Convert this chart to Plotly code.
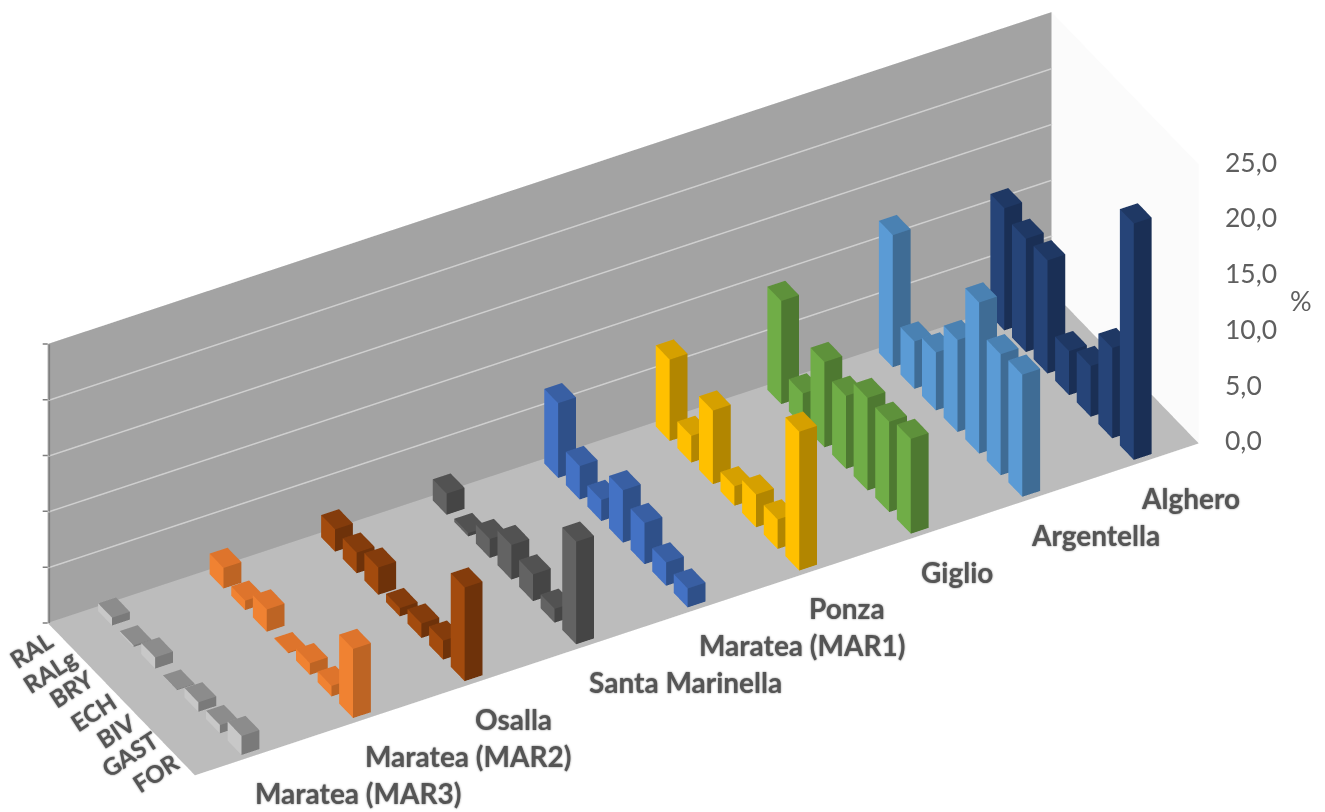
import plotly.graph_objects as go

# Sites along the long floor axis, front to back
sites = ["Maratea (MAR3)", "Maratea (MAR2)", "Osalla", "Santa Marinella", "Maratea (MAR1)",
         "Ponza", "Giglio", "Argentella", "Alghero"]
categories = ["RAL", "RALg", "BRY", "ECH", "BIV", "GAST", "FOR"]

mar3 = [0.7, 0.15, 1.0, 0.05, 0.85, 0.75, 1.7]
mar2 = [1.85, 0.85, 2.0, 0.1, 1.05, 0.95, 6.2]
osalla = [2.0, 1.85, 2.45, 0.75, 1.3, 1.7, 8.4]
santa_marinella = [1.9, 0.3, 1.7, 3.1, 2.4, 1.25, 9.2]
mar1 = [6.7, 3.0, 1.9, 4.7, 3.7, 2.1, 1.7]
ponza = [7.3, 2.4, 6.6, 1.75, 2.95, 2.65, 12.45]
giglio = [9.25, 2.9, 7.65, 6.55, 8.3, 8.1, 8.5]
argentella = [11.85, 4.25, 5.2, 8.25, 13.55, 10.85, 10.95]
alghero = [10.95, 10.15, 10.15, 3.95, 4.55, 8.1, 21.2]
series = [mar3, mar2, osalla, santa_marinella, mar1, ponza, giglio, argentella, alghero]

z_ticks = [0, 5, 10, 15, 20, 25]
z_tick_labels = ["0,0", "5,0", "10,0", "15,0", "20,0", "25,0"]

# Face colours per site: side facing left, side facing right, top
face_colors = [
    ("#c8c8c8", "#7a7a7a", "#8c8c8c"),
    ("#f08232", "#bd6424", "#de742c"),
    ("#a34b0e", "#6e320a", "#843c0c"),
    ("#636363", "#454545", "#525252"),
    ("#4472c4", "#2f5089", "#395fa3"),
    ("#ffc000", "#b28600", "#d5a000"),
    ("#70ad47", "#4e7931", "#5e913b"),
    ("#5b9bd5", "#3f6c95", "#4a81b2"),
    ("#264478", "#1a2f55", "#1f3864"),
]

BAR_X = 0.08     # half width along the site axis
BAR_Y = 0.33     # half width along the category axis
ROW_DRIFT = 0.005  # slight lean of each row along the site axis
n_cat = len(categories)

# Label nudges in pixels
site_dx = [107, 106, 40, 100, 105, 39, 37, 64, 48]
cat_shift = [(-27, 16), (-29, 15), (-29, 11), (-28, 12), (-26, 10), (-33, 11), (-29, 8)]
TEXT = "#555555"


def bars_mesh(site_index, values, colors):
    left, right, top = colors
    xs, ys, zs, i, j, k, fc = [], [], [], [], [], [], []
    for c, v in enumerate(values):
        yc = n_cat - 1 - c
        xc = site_index + ROW_DRIFT * c
        x0, x1 = xc - BAR_X, xc + BAR_X
        y0, y1 = yc - BAR_Y, yc + BAR_Y
        b = len(xs)
        xs += [x0, x1, x1, x0, x0, x1, x1, x0]
        ys += [y0, y0, y1, y1, y0, y0, y1, y1]
        zs += [0, 0, 0, 0, v, v, v, v]
        quads = [
            ((0, 3, 7), (0, 7, 4), left),    # x-min side
            ((0, 1, 5), (0, 5, 4), right),   # y-min side
            ((4, 5, 6), (4, 6, 7), top),
            ((1, 2, 6), (1, 6, 5), right),
            ((3, 2, 6), (3, 6, 7), left),
        ]
        for t1, t2, col in quads:
            for t in (t1, t2):
                i.append(b + t[0]); j.append(b + t[1]); k.append(b + t[2])
                fc.append(col)
    return go.Mesh3d(
        x=xs, y=ys, z=zs, i=i, j=j, k=k, facecolor=fc, flatshading=True,
        lighting=dict(ambient=1, diffuse=0, specular=0, roughness=1, fresnel=0),
        hoverinfo="skip", showscale=False, name=sites[site_index],
    )


fig = go.Figure()
for s, vals in enumerate(series):
    fig.add_trace(bars_mesh(s, vals, face_colors[s]))

X_MIN, X_MAX = -0.5, len(sites) - 0.5
Y_MIN, Y_MAX = -0.5, n_cat - 0.5
WALL_Y = Y_MAX - 0.03   # just in front of the back wall, so lines do not fight with it

# Pale rules across the back wall only
gx, gy, gz = [], [], []
for t in z_ticks[1:-1]:
    gx += [X_MIN, X_MAX, None]
    gy += [WALL_Y, WALL_Y, None]
    gz += [t, t, None]
fig.add_trace(go.Scatter3d(x=gx, y=gy, z=gz, mode="lines",
                           line=dict(color="#cfcfcf", width=3), hoverinfo="skip"))

# Spine at the left end of the back wall
fig.add_trace(go.Scatter3d(x=[X_MIN + 0.01, X_MIN + 0.01], y=[WALL_Y, WALL_Y], z=[0, 25], mode="lines",
                           line=dict(color="#7f7f7f", width=3), hoverinfo="skip"))

annotations = []
for s, name in enumerate(sites):
    annotations.append(dict(
        x=s, y=Y_MIN, z=0, text=name, showarrow=False, xshift=site_dx[s], yshift=-36,
        font=dict(family="Lato", size=28, color=TEXT, weight=700, shadow="0 0 2px #777"),
    ))
for c, name in enumerate(categories):
    dx, dy = cat_shift[c]
    annotations.append(dict(
        x=X_MIN, y=n_cat - 1 - c, z=0, text=name, showarrow=False, textangle=-33,
        xshift=dx, yshift=-dy,
        font=dict(family="Lato", size=24, color=TEXT, weight=700, shadow="0 0 2px #777"),
    ))
for t, lab in zip(z_ticks, z_tick_labels):
    annotations.append(dict(
        x=X_MAX, y=Y_MIN, z=t, text=lab, showarrow=False, xanchor="left", xshift=24, yshift=3,
        font=dict(family="Lato", size=26.5, color="#5f5f5f"),
    ))
    # Short tick stub to the left of the spine
    annotations.append(dict(
        x=X_MIN, y=Y_MAX, z=t, text=" ", showarrow=True, arrowhead=0, arrowwidth=1.5,
        arrowcolor="#7f7f7f", ax=-8, ay=0,
    ))

hidden = dict(showgrid=False, zeroline=False, showline=False, showticklabels=False,
              ticks="", title="", showspikes=False, showbackground=True)

VIEW = (-0.399, -0.706, 0.585)
RADIUS = 2.5
CENTER = (0.084, -0.048, -0.037)
ASPECT = (2.84, 0.737, 0.847)

fig.update_layout(
    width=1325, height=812, margin=dict(l=0, r=0, t=0, b=0),
    paper_bgcolor="white", showlegend=False,
    scene=dict(
        domain=dict(x=[0, 1], y=[0, 1]),
        xaxis=dict(hidden, range=[X_MIN, X_MAX], backgroundcolor="#fbfbfb"),
        yaxis=dict(hidden, range=[Y_MIN, Y_MAX], backgroundcolor="#a3a3a3"),
        zaxis=dict(hidden, range=[0, 25], backgroundcolor="#bcbcbc"),
        aspectmode="manual",
        aspectratio=dict(x=ASPECT[0], y=ASPECT[1], z=ASPECT[2]),
        camera=dict(
            projection=dict(type="orthographic"),
            up=dict(x=0, y=0, z=1),
            center=dict(x=CENTER[0], y=CENTER[1], z=CENTER[2]),
            eye=dict(x=CENTER[0] + VIEW[0] * RADIUS, y=CENTER[1] + VIEW[1] * RADIUS,
                     z=CENTER[2] + VIEW[2] * RADIUS),
        ),
        annotations=annotations,
    ),
    annotations=[dict(xref="paper", yref="paper", x=1301 / 1325, y=1 - 300 / 812, text="%",
                      xanchor="center", yanchor="middle", showarrow=False,
                      font=dict(family="Lato", size=27, color="#5f5f5f"))],
)

fig.write_html("out.html")
